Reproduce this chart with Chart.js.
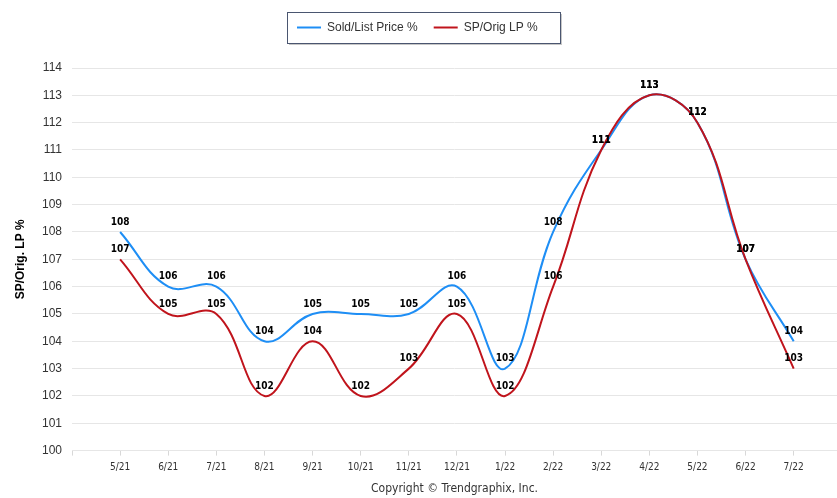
<!DOCTYPE html>
<html>
<head>
<meta charset="utf-8">
<script src="https://cdn.jsdelivr.net/npm/chart.js@4.4.0/dist/chart.umd.min.js"></script>
<style>
  html, body { margin: 0; padding: 0; background: #fff; }
  #wrap { width: 837px; height: 498px; }
</style>
</head>
<body>
<div id="wrap"><canvas id="chart" width="837" height="498"></canvas></div>
<script>
const categories = ['5/21', '6/21', '7/21', '8/21', '9/21', '10/21', '11/21', '12/21', '1/22', '2/22', '3/22', '4/22', '5/22', '6/22', '7/22'];
const soldList = [108, 106, 106, 104, 105, 105, 105, 106, 103, 108, 111, 113, 112, 107, 104];
const spOrig = [107, 105, 105, 102, 104, 102, 103, 105, 102, 106, 111, 113, 112, 107, 103];
const yTicks = [100, 101, 102, 103, 104, 105, 106, 107, 108, 109, 110, 111, 112, 113, 114];

const narrowFont = '"DejaVu Sans Condensed", "Liberation Sans Narrow", "Liberation Sans", Arial, sans-serif';
const plainFont = '"Liberation Sans", Arial, sans-serif';

// categories sit at x = 1..n, so the axis has a blank slot on the left
const toPoints = arr => arr.map((v, i) => ({ x: i + 1, y: v }));

// value labels above every point
const valueLabels = {
  id: 'valueLabels',
  afterDatasetsDraw(chart) {
    const ctx = chart.ctx;
    ctx.save();
    ctx.font = 'bold 10px ' + narrowFont;
    ctx.fillStyle = '#000';
    ctx.textAlign = 'center';
    ctx.textBaseline = 'middle';
    chart.data.datasets.forEach((ds, di) => {
      const meta = chart.getDatasetMeta(di);
      meta.data.forEach((pt, i) => {
        ctx.fillText(ds.data[i].y, pt.x, pt.y - 10);
      });
    });
    ctx.restore();
  }
};

// legend drawn by hand so it can sit in a boxed frame above the plot
const boxedLegend = {
  id: 'boxedLegend',
  afterDraw(chart) {
    const ctx = chart.ctx;
    const x = 287, y = 12, w = 273, h = 31;
    ctx.save();
    ctx.fillStyle = 'rgba(0,0,0,0.22)';
    ctx.fillRect(x + 2, y + 2, w, h);
    ctx.fillStyle = '#fff';
    ctx.fillRect(x, y, w, h);
    ctx.strokeStyle = '#4a5670';
    ctx.lineWidth = 1;
    ctx.strokeRect(x + 0.5, y + 0.5, w, h);

    ctx.font = '12px ' + plainFont;
    ctx.textBaseline = 'middle';
    ctx.textAlign = 'left';
    let cx = x + 10;
    const cy = y + 15.5;
    chart.data.datasets.forEach(ds => {
      ctx.strokeStyle = ds.borderColor;
      ctx.lineWidth = 2;
      ctx.beginPath();
      ctx.moveTo(cx, cy);
      ctx.lineTo(cx + 24, cy);
      ctx.stroke();
      ctx.fillStyle = '#333';
      ctx.fillText(ds.label, cx + 30, cy);
      cx += 30 + ctx.measureText(ds.label).width + 16;
    });
    ctx.restore();
  }
};

new Chart(document.getElementById('chart'), {
  type: 'line',
  data: {
    datasets: [
      {
        label: 'Sold/List Price %',
        data: toPoints(soldList),
        borderColor: '#1e8ef5',
        backgroundColor: '#1e8ef5',
        borderWidth: 2,
        pointRadius: 0,
        tension: 0.4,
        order: 2
      },
      {
        label: 'SP/Orig LP %',
        data: toPoints(spOrig),
        borderColor: '#c0141c',
        backgroundColor: '#c0141c',
        borderWidth: 2,
        pointRadius: 0,
        tension: 0.4,
        order: 1
      }
    ]
  },
  options: {
    responsive: false,
    animation: false,
    layout: { padding: { top: 68, right: 0, bottom: 2, left: 13 } },
    plugins: {
      tooltip: { enabled: false },
      legend: { display: false },
      subtitle: {
        display: true,
        position: 'bottom',
        fullSize: false,
        text: 'Copyright \u00A9 Trendgraphix, Inc.',
        color: '#333',
        font: { family: narrowFont, size: 12, weight: 'normal' },
        padding: { top: 4, bottom: 0 }
      }
    },
    scales: {
      x: {
        type: 'linear',
        min: 0,
        max: 15.9,
        afterBuildTicks(scale) {
          scale.ticks = [{ value: 0 }].concat(categories.map((c, i) => ({ value: i + 1 })));
        },
        afterFit(scale) { scale.height = 27; },
        grid: { drawOnChartArea: false, tickLength: 5, color: '#d8d8d8' },
        border: { display: false },
        ticks: {
          autoSkip: false,
          maxRotation: 0,
          padding: 6,
          color: '#333',
          font: { family: narrowFont, size: 10 },
          callback: v => categories[v - 1] || ''
        }
      },
      y: {
        min: 100,
        max: 114,
        afterBuildTicks(scale) { scale.ticks = yTicks.map(v => ({ value: v })); },
        afterFit(scale) { scale.width = 59; },
        grid: { color: '#e6e6e6', drawTicks: false },
        border: { display: false },
        ticks: {
          padding: 10,
          color: '#333',
          font: { family: plainFont, size: 12 }
        },
        title: {
          display: true,
          text: 'SP/Orig. LP %',
          color: '#000',
          font: { family: plainFont, size: 12, weight: 'bold' },
          padding: { top: 0, bottom: 4 }
        }
      }
    }
  },
  plugins: [boxedLegend, valueLabels]
});
</script>
</body>
</html>
